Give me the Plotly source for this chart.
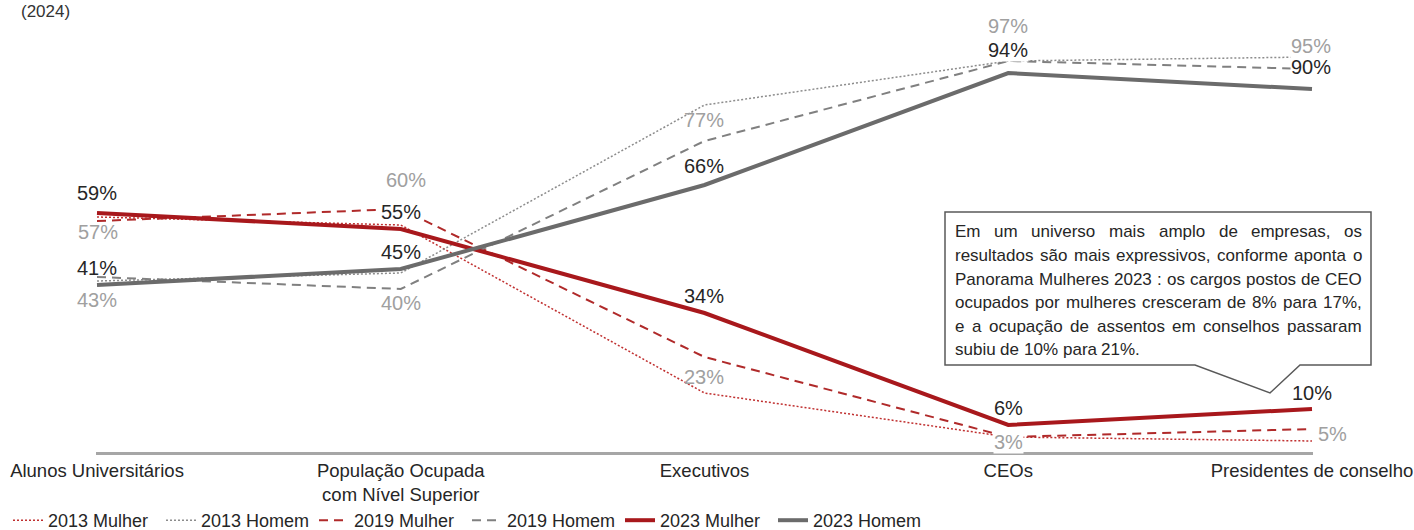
import plotly.graph_objects as go

# ---------------- data ----------------
categories = ["Alunos Universitários", "População Ocupada<br>com Nível Superior",
              "Executivos", "CEOs", "Presidentes de conselho"]
mulher_2013 = [58, 56, 14, 3, 2]
homem_2013 = [42, 44, 86, 97, 98]
mulher_2019 = [57, 60, 23, 3, 5]
homem_2019 = [43, 40, 77, 97, 95]
mulher_2023 = [59, 55, 34, 6, 10]
homem_2023 = [41, 45, 66, 94, 90]
series_names = ["2013 Mulher", "2013 Homem", "2019 Mulher", "2019 Homem",
                "2023 Mulher", "2023 Homem"]
note_lines = [
    "Em um universo mais amplo de empresas, os",
    "resultados são mais expressivos, conforme aponta o",
    "Panorama Mulheres 2023 : os cargos postos de CEO",
    "ocupados por mulheres cresceram de 8% para 17%,",
    "e a ocupação de assentos em conselhos passaram",
    "subiu de 10% para 21%.",
]
subtitle = "(2024)"

# ---------------- layout geometry ----------------
W, H = 1414, 530
L, R, T, B = 96, 101, 49, 78
PW, PH = W - L - R, H - T - B
FONT = "Liberation Sans, Arial, sans-serif"
XR = [-1 / 303.75, 4 + 1 / 303.75]
YR = [-0.75, 100]


def px_x(px):
    return (px - L) / PW


def px_y(py):
    return (H - B - py) / PH


def dx_to_paper(x):
    return (x - XR[0]) / (XR[1] - XR[0])


def dy_to_paper(y):
    return (y - YR[0]) / (YR[1] - YR[0])


xs = list(range(len(categories)))
RED3, RED2, RED1 = "#a8181c", "#b02a2a", "#c03030"
GR3, GR2, GR1 = "#6b6b6b", "#808080", "#8c8c8c"

fig = go.Figure()
styles = [
    (mulher_2013, dict(color=RED1, width=1.5, dash="2px,2px")),
    (homem_2013, dict(color=GR1, width=1.5, dash="2px,2px")),
    (mulher_2019, dict(color=RED2, width=2, dash="9px,6px")),
    (homem_2019, dict(color=GR2, width=2, dash="9px,6px")),
    (mulher_2023, dict(color=RED3, width=4)),
    (homem_2023, dict(color=GR3, width=4)),
]
for (vals, ln), name in zip(styles, series_names):
    fig.add_trace(go.Scatter(x=xs, y=vals, mode="lines", name=name, line=ln,
                             hoverinfo="skip"))

annotations = []
DARK, LIGHT = "#262626", "#a0a0a0"


def add_labels(vals, dys, dxs, color, bgs):
    for i, v in enumerate(vals):
        a = dict(x=dx_to_paper(xs[i] + dxs[i]), y=dy_to_paper(v + dys[i]),
                 xref="paper", yref="paper",
                 text=f"{v}%", showarrow=False,
                 font=dict(family=FONT, size=20, color=color),
                 xanchor="center", yanchor="middle", borderpad=0)
        if bgs[i]:
            a["bgcolor"] = "white"
        annotations.append(a)


add_labels(mulher_2023, [5, 4.3, 4.3, 4.3, 4], [0, 0, 0, 0, 0], DARK,
           [0, 1, 0, 0, 0])
add_labels(homem_2023, [4.3, 4.3, 4.8, 5.8, 5.5], [0, 0, 0, 0, -0.003], DARK,
           [0, 0, 0, 1, 1])
add_labels(mulher_2019, [-2.8, 7.3, -5, -1.3, -1.3], [0.003, 0.016, 0, 0, 0.066],
           LIGHT, [0, 0, 0, 1, 1])
add_labels(homem_2019, [-5.8, -3.5, 5.3, 8.8, 5.8], [0, 0, 0, 0, -0.003], LIGHT,
           [0, 0, 0, 0, 1])

# subtitle
annotations.append(dict(x=px_x(19), y=px_y(12), xref="paper", yref="paper",
                        text=subtitle, showarrow=False, xanchor="left",
                        yanchor="middle",
                        font=dict(family=FONT, size=17, color="#333333")))

# justified note text
CW = {' ': 278, ',': 278, '.': 278, ':': 278, '%': 889, 'a': 556, 'b': 556,
      'c': 500, 'd': 556, 'e': 556, 'f': 278, 'g': 556, 'h': 556, 'i': 222,
      'j': 222, 'k': 500, 'l': 222, 'm': 833, 'n': 556, 'o': 556, 'p': 556,
      'q': 556, 'r': 333, 's': 500, 't': 278, 'u': 556, 'v': 500, 'w': 722,
      'x': 500, 'y': 500, 'z': 500, 'ã': 556, 'ç': 500, 'á': 556, 'í': 278,
      'E': 667, 'P': 667, 'M': 833, 'C': 722, 'O': 778}
NS = 17


def tw(s):
    return sum(CW.get(c, 556) for c in s) * NS / 1000


left_px, right_px = 955, 1362
line_y = [232, 255.5, 279, 302.5, 326, 349.5]
for li, line in enumerate(note_lines):
    words = line.split(" ")
    widths = [tw(w) for w in words]
    if li < len(note_lines) - 1 and len(words) > 1:
        gap = (right_px - left_px - sum(widths)) / (len(words) - 1)
    else:
        gap = tw(" ")
    x = left_px
    for w, wd in zip(words, widths):
        annotations.append(dict(x=px_x(x - 1), y=px_y(line_y[li]), xref="paper",
                                yref="paper", text=w, showarrow=False,
                                xanchor="left", yanchor="middle", borderpad=0,
                                font=dict(family=FONT, size=NS, color="#262626")))
        x += wd + gap

# callout box
pts = [(945, 212), (1371, 212), (1371, 365), (1300, 365), (1270, 393),
       (1195, 365), (945, 365)]
path = "M " + " L ".join(f"{px_x(a):.5f},{px_y(b):.5f}" for a, b in pts) + " Z"
shapes = [dict(type="path", xref="paper", yref="paper", path=path,
               line=dict(color="#595959", width=1.5), fillcolor="white",
               layer="below")]

fig.update_layout(
    width=W, height=H,
    margin=dict(l=L, r=R, t=T, b=B, pad=0, autoexpand=False),
    paper_bgcolor="white", plot_bgcolor="white",
    font=dict(family=FONT, color="#262626"),
    showlegend=True,
    legend=dict(orientation="h", x=px_x(8), y=px_y(502), xanchor="left",
                yanchor="top", font=dict(family=FONT, size=18, color="#262626"),
                entrywidth=108, itemwidth=30, bgcolor="rgba(0,0,0,0)"),
    annotations=annotations,
    shapes=shapes,
    hovermode=False,
)
fig.update_xaxes(range=XR, tickvals=xs,
                 ticktext=categories, showgrid=False, zeroline=False,
                 showline=True, linecolor="#a6a6a6", linewidth=3, ticks="",
                 tickfont=dict(family=FONT, size=18.5, color="#262626"),
                 fixedrange=True)
fig.update_yaxes(range=YR, showgrid=False, zeroline=False,
                 showticklabels=False, showline=False, fixedrange=True)

fig.write_html("out.html")
